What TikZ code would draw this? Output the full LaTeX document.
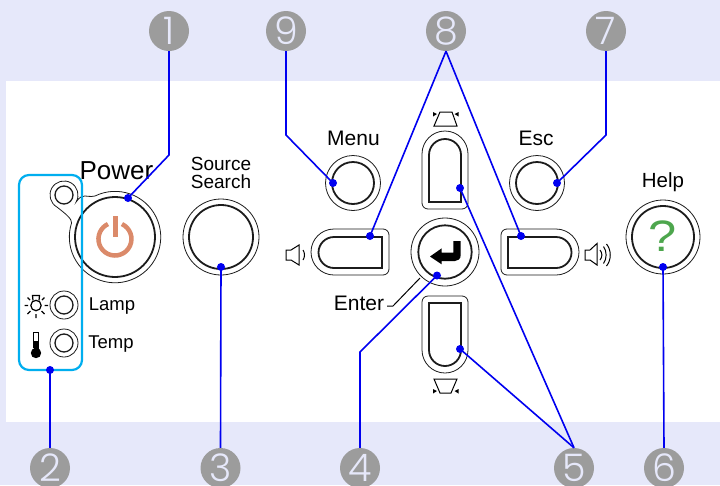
\documentclass[tikz,border=0pt]{standalone}
\usepackage{graphicx}
\usepackage{fontspec}
\setmainfont{Liberation Sans}
\newfontfamily\badgefont{Poppins Light}
\definecolor{bgc}{HTML}{E6E8FA}
\definecolor{bluec}{HTML}{0000F0}
\definecolor{cyanc}{HTML}{00AEEF}
\definecolor{badgec}{HTML}{9C9C9C}
\definecolor{digitc}{HTML}{E6E8FA}
\definecolor{powc}{HTML}{DB8A6A}
\definecolor{helpc}{HTML}{4DA64D}
\definecolor{inkc}{HTML}{1C1C1C}
\tikzset{
  badge/.style={circle,fill=badgec,minimum size=40pt,inner sep=0pt,text=digitc,font=\badgefont\fontsize{38}{38}\selectfont},
  lnk/.style={draw=bluec,line width=1.6pt},
  dotn/.style={circle,fill=bluec,minimum size=8pt,inner sep=0pt},
  ringout/.style={draw=inkc,line width=0.8pt},
  ringin/.style={draw=inkc,line width=1.8pt},
  lab/.style={inner sep=0pt,text=black},
  thin icon/.style={draw=black,line width=1pt},
}
\newcommand{\ringbtn}[5]{% name, x, y, outer r, inner r
  \draw[ringout] (#2,#3) circle (#4);
  \node[circle,ringin,minimum size=2*#5 pt,inner sep=0pt] (#1) at (#2,#3) {};
}
\begin{document}
\begin{tikzpicture}[x=1pt,y=-1pt]
\useasboundingbox (0,0) rectangle (720,485);
\clip (0,0) rectangle (720,485);
\fill[bgc] (0,0) rectangle (720,485);
\fill[white] (6,81) rectangle (720,422);

% power outline with lobe
\draw[ringout] (95.0,196.0) arc[start angle=-116,end angle=198,radius=45.7]
  .. controls (72,219) and (66,214) .. (57,207.1)
  arc[start angle=120,end angle=390,radius=14]
  .. controls (83,192) and (86,198) .. (95.0,196.0) -- cycle;
\node[circle,ringin,minimum size=80pt,inner sep=0pt] (power) at (115,237) {};
% power glyph
\draw[powc,line width=4.5pt] (115+16.5*0.42,239-16.5*0.906) arc[start angle=-65,end angle=245,radius=16.5];
\draw[powc,line width=5pt] (115,216) -- (115,237);

% LEDs
\node[circle,draw=inkc,line width=1.3pt,minimum size=18pt,inner sep=0pt] (ledpow) at (64,195) {};
\draw[ringout] (64,305) circle (14);
\node[circle,draw=inkc,line width=1.3pt,minimum size=18pt,inner sep=0pt] (ledlamp) at (64,305) {};
\draw[ringout] (64,343) circle (14);
\node[circle,draw=inkc,line width=1.3pt,minimum size=18pt,inner sep=0pt] (ledtemp) at (64,343) {};

% sun icon
\draw[black,line width=1.2pt] (36,305.5) circle (5.2);
\draw[black,line width=1.2pt] (33,300.5) -- (32.5,295.5) -- (39.5,295.5) -- (39,300.5);
\draw[black,line width=1.3pt]
  (24.5,305.5) -- (28,305.5) (44.5,305.5) -- (48,305.5)
  (36,314) -- (36,318)
  (27.5,297.5) -- (30,300)
  (44.5,297.5) -- (42,300)
  (27.5,314) -- (30.5,311)
  (44.5,314) -- (41.5,311);
% thermometer icon
\fill[black] (36,353) circle (5.2);
\draw[black,line width=1.2pt] (33.5,348) -- (33.5,332.5) -- (38.5,332.5) -- (38.5,348);
\fill[black] (33.5,340.5) rectangle (38.5,350);

% cyan box
\draw[cyanc,line width=2.2pt,rounded corners=10pt] (19,175) rectangle (82,370);

% round buttons
\ringbtn{source}{221}{237}{38}{32}
\ringbtn{menu}{353}{183}{27.5}{21}
\ringbtn{esc}{537}{183}{27.5}{21}
\ringbtn{help}{663}{237}{37}{31}
\ringbtn{enter}{445}{252}{34}{26.7}

% return arrow
\fill[black]
  (430,256.5) -- (441.7,248.3) -- (441.7,252.7) -- (453.3,252.7) -- (453.3,241) -- (460.7,241)
  -- (460.7,255) .. controls (460.7,259) and (458,261) .. (455,261) -- (441.7,261) -- (441.7,264.3) -- cycle;

% directional buttons
\draw[ringout] (422,203) -- (422,154) arc[start angle=180,end angle=360,radius=23] -- (468,203)
  arc[start angle=0,end angle=90,radius=6] -- (428,209) arc[start angle=90,end angle=180,radius=6] -- cycle;
\draw[ringin] (429,202) -- (429,155) arc[start angle=180,end angle=360,radius=16] -- (461,202) -- cycle;
\draw[ringout] (422,302) arc[start angle=180,end angle=270,radius=6] -- (462,296) arc[start angle=270,end angle=360,radius=6]
  -- (468,350) arc[start angle=0,end angle=180,radius=23] -- cycle;
\draw[ringin] (429,303) -- (461,303) -- (461,350) arc[start angle=0,end angle=180,radius=16] -- cycle;
\draw[ringout] (383,229) arc[start angle=-90,end angle=0,radius=6] -- (389,269) arc[start angle=0,end angle=90,radius=6]
  -- (334,275) arc[start angle=90,end angle=270,radius=23] -- cycle;
\draw[ringin] (382,237) -- (382,268) -- (334,268) arc[start angle=90,end angle=270,radius=15.5] -- cycle;
\draw[ringout] (507,229) -- (556,229) arc[start angle=-90,end angle=90,radius=23] -- (507,275)
  arc[start angle=90,end angle=180,radius=6] -- (501,235) arc[start angle=180,end angle=270,radius=6] -- cycle;
\draw[ringin] (508,237) -- (556,237) arc[start angle=-90,end angle=90,radius=15.5] -- (508,268) -- cycle;

% keystone icons
\draw[thin icon] (440,112) -- (452,112) -- (457,126) -- (434,126) -- cycle;
\fill[black] (433,112) -- (437,114) -- (433,116.5) -- cycle;
\fill[black] (458.5,112) -- (454.5,114) -- (458.5,116.5) -- cycle;
\draw[thin icon] (434,379) -- (457,379) -- (451,393) -- (440,393) -- cycle;
\fill[black] (433,389) -- (437,391) -- (433,393.5) -- cycle;
\fill[black] (458.5,389) -- (454.5,391) -- (458.5,393.5) -- cycle;

% speakers
\draw[thin icon] (286,250) -- (291,250) -- (299,245) -- (299,265) -- (291,260) -- (286,260) -- cycle;
\draw[thin icon] (303,250) .. controls (305,253) and (305,257) .. (303,260);
\draw[thin icon] (585,250) -- (590,250) -- (597,243.5) -- (597,265) -- (590,260) -- (585,260) -- cycle;
\draw[thin icon] (600,250) .. controls (602.5,253) and (602.5,257) .. (600,260);
\draw[thin icon] (603.5,246.5) .. controls (607,251) and (607,259) .. (603.5,263.5);
\draw[thin icon] (606.5,244) .. controls (611.5,250) and (611.5,260) .. (606.5,266);

% help glyph
\node[lab,text=helpc,font=\fontsize{44}{44}\selectfont] (helpq) at (663,236) {\scalebox{1.15}[1]{?}};
% labels
\node[lab,font=\fontsize{26}{26}\selectfont] (lpower) at (116.5,171) {Power};
\node[lab,font=\fontsize{19}{19}\selectfont] (lsource) at (221,164) {Source};
\node[lab,font=\fontsize{19}{19}\selectfont] (lsearch) at (221,181.5) {Search};
\node[lab,font=\fontsize{21}{21}\selectfont] (lmenu) at (353.5,138) {Menu};
\node[lab,font=\fontsize{21}{21}\selectfont] (lesc) at (536,138) {Esc};
\node[lab,font=\fontsize{20.5}{21}\selectfont] (lhelp) at (663,182) {Help};
\node[lab,font=\fontsize{18.5}{20}\selectfont] (llamp) at (112,306) {Lamp};
\node[lab,font=\fontsize{18.5}{20}\selectfont] (ltemp) at (111,344) {Temp};
\node[lab,font=\fontsize{21}{20}\selectfont] (lenter) at (359,303) {Enter};
\draw[black,line width=1pt] (387,306) -- (393,306) -- (420,278);

% anchor dots
\node[dotn] (d1) at (128,198) {};
\node[dotn] (d2) at (50,370) {};
\node[dotn] (d3) at (221,267) {};
\node[dotn] (d4) at (437,275.5) {};
\node[dotn] (d5a) at (460,188) {};
\node[dotn] (d5b) at (460,349) {};
\node[dotn] (d6) at (663,267) {};
\node[dotn] (d7) at (557,183) {};
\node[dotn] (d8a) at (370,236) {};
\node[dotn] (d8b) at (521,236) {};
\node[dotn] (d9) at (333,183) {};

% badges
\node[badge] (b1) at (169,31) {1};
\node[badge] (b2) at (50,468) {2};
\node[badge] (b3) at (220.5,468) {3};
\node[badge] (b4) at (360,468) {4};
\node[badge] (b5) at (574,468) {5};
\node[badge] (b6) at (664,468) {6};
\node[badge] (b7) at (606,31) {7};
\node[badge] (b8) at (446,31) {8};
\node[badge] (b9) at (286,31) {9};

\coordinate (k1) at (169,155);
\coordinate (k4) at (360,352);
\coordinate (k7) at (606,135);
\coordinate (k9) at (286,135);

% connectors
\draw[lnk] (b1.south) -- (k1) -- (d1.center);
\draw[lnk] (b2.north) -- (d2.center);
\draw[lnk] (b3.north) -- (d3.center);
\draw[lnk] (b4.north) -- (k4) -- (d4.center);
\draw[lnk] (b5.north) -- (d5a.center);
\draw[lnk] (b5.north) -- (d5b.center);
\draw[lnk] (b6.north) -- (d6.center);
\draw[lnk] (b7.south) -- (k7) -- (d7.center);
\draw[lnk] (b8.south) -- (d8a.center);
\draw[lnk] (b8.south) -- (d8b.center);
\draw[lnk] (b9.south) -- (k9) -- (d9.center);
\end{tikzpicture}
\end{document}
